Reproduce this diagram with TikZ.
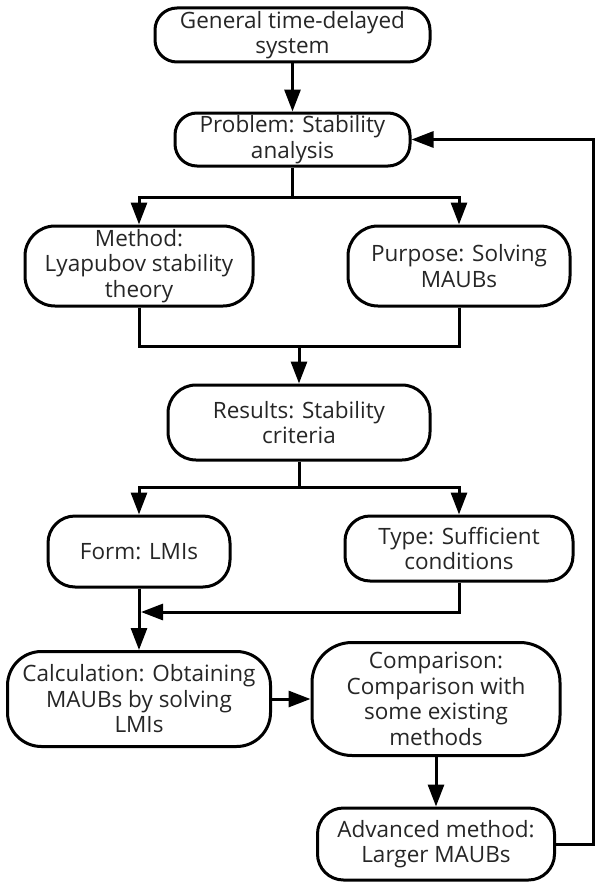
\documentclass[tikz,border=0pt]{standalone}
\usepackage{fontspec}
\setmainfont{Open Sans}
\usetikzlibrary{arrows.meta}
\begin{document}
\begin{tikzpicture}[x=1pt,y=-1pt,
  box/.style={draw=black, line width=3pt, rounded corners=#1, inner sep=0pt, align=center,
    font=\fontsize{22.5}{25.5}\selectfont, text=black!85, fill=white},
  box/.default=24pt,
  conn/.style={line width=3pt, line join=miter},
  arr/.style={conn, -{Triangle[length=22pt,width=16pt]}}]
\useasboundingbox[fill=white] (0,0) rectangle (595,883);
\node[box=22pt, minimum width=275pt, minimum height=54pt] (gen) at (292.5,35) {General time-delayed\\system};
\node[box=22pt, minimum width=235pt, minimum height=53pt] (prob) at (292.5,139.5) {Problem: Stability\\analysis};
\node[box=30pt, minimum width=228pt, minimum height=80pt] (meth) at (139,266) {Method:\\Lyapubov stability\\theory};
\node[box=30pt, minimum width=222pt, minimum height=80pt] (purp) at (459,266) {Purpose: Solving\\MAUBs};
\node[box=28pt, minimum width=262pt, minimum height=75pt] (res) at (299,422.5) {Results: Stability\\criteria};
\node[box=27pt, minimum width=182pt, minimum height=71pt] (form) at (139,551.5) {Form: LMIs};
\node[box=25pt, minimum width=228pt, minimum height=65pt] (type) at (459,548.5) {Type: Sufficient\\conditions};
\node[box=34pt, minimum width=263pt, minimum height=95pt] (calc) at (139,699) {Calculation: Obtaining\\MAUBs by solving\\LMIs};
\node[box=40pt, minimum width=248pt, minimum height=113pt] (comp) at (436,699) {Comparison:\\Comparison with\\some existing\\methods};
\node[box=26pt, minimum width=237pt, minimum height=72pt] (adv) at (436,844) {Advanced method:\\Larger MAUBs};

\coordinate (s1) at (292.5,197);
\coordinate (m1) at (299,346);
\coordinate (s2) at (299,487);
\coordinate (j) at (141,612);
\coordinate (r) at (593,0);

\draw[arr] (gen) -- (prob);
\draw[conn] (prob.south) -- (s1);
\draw[arr] (s1) -| (meth.north);
\draw[arr] (s1) -| (purp.north);
\draw[conn] (meth.south) |- (m1);
\draw[conn] (purp.south) |- (m1);
\draw[arr] (m1) -- (res.north);
\draw[conn] (res.south) -- (s2);
\draw[arr] (s2) -| (form.north);
\draw[arr] (s2) -| (type.north);
\draw[arr] (form.south) -- (calc.north);
\draw[arr] (type.south) |- (j);
\draw[arr] (calc.east) -- (comp.west);
\draw[arr] (comp.south) -- (adv.north);
\draw[arr] (adv.east) -- (adv.east -| r) -- (prob.east -| r) -- (prob.east);
\end{tikzpicture}
\end{document}
